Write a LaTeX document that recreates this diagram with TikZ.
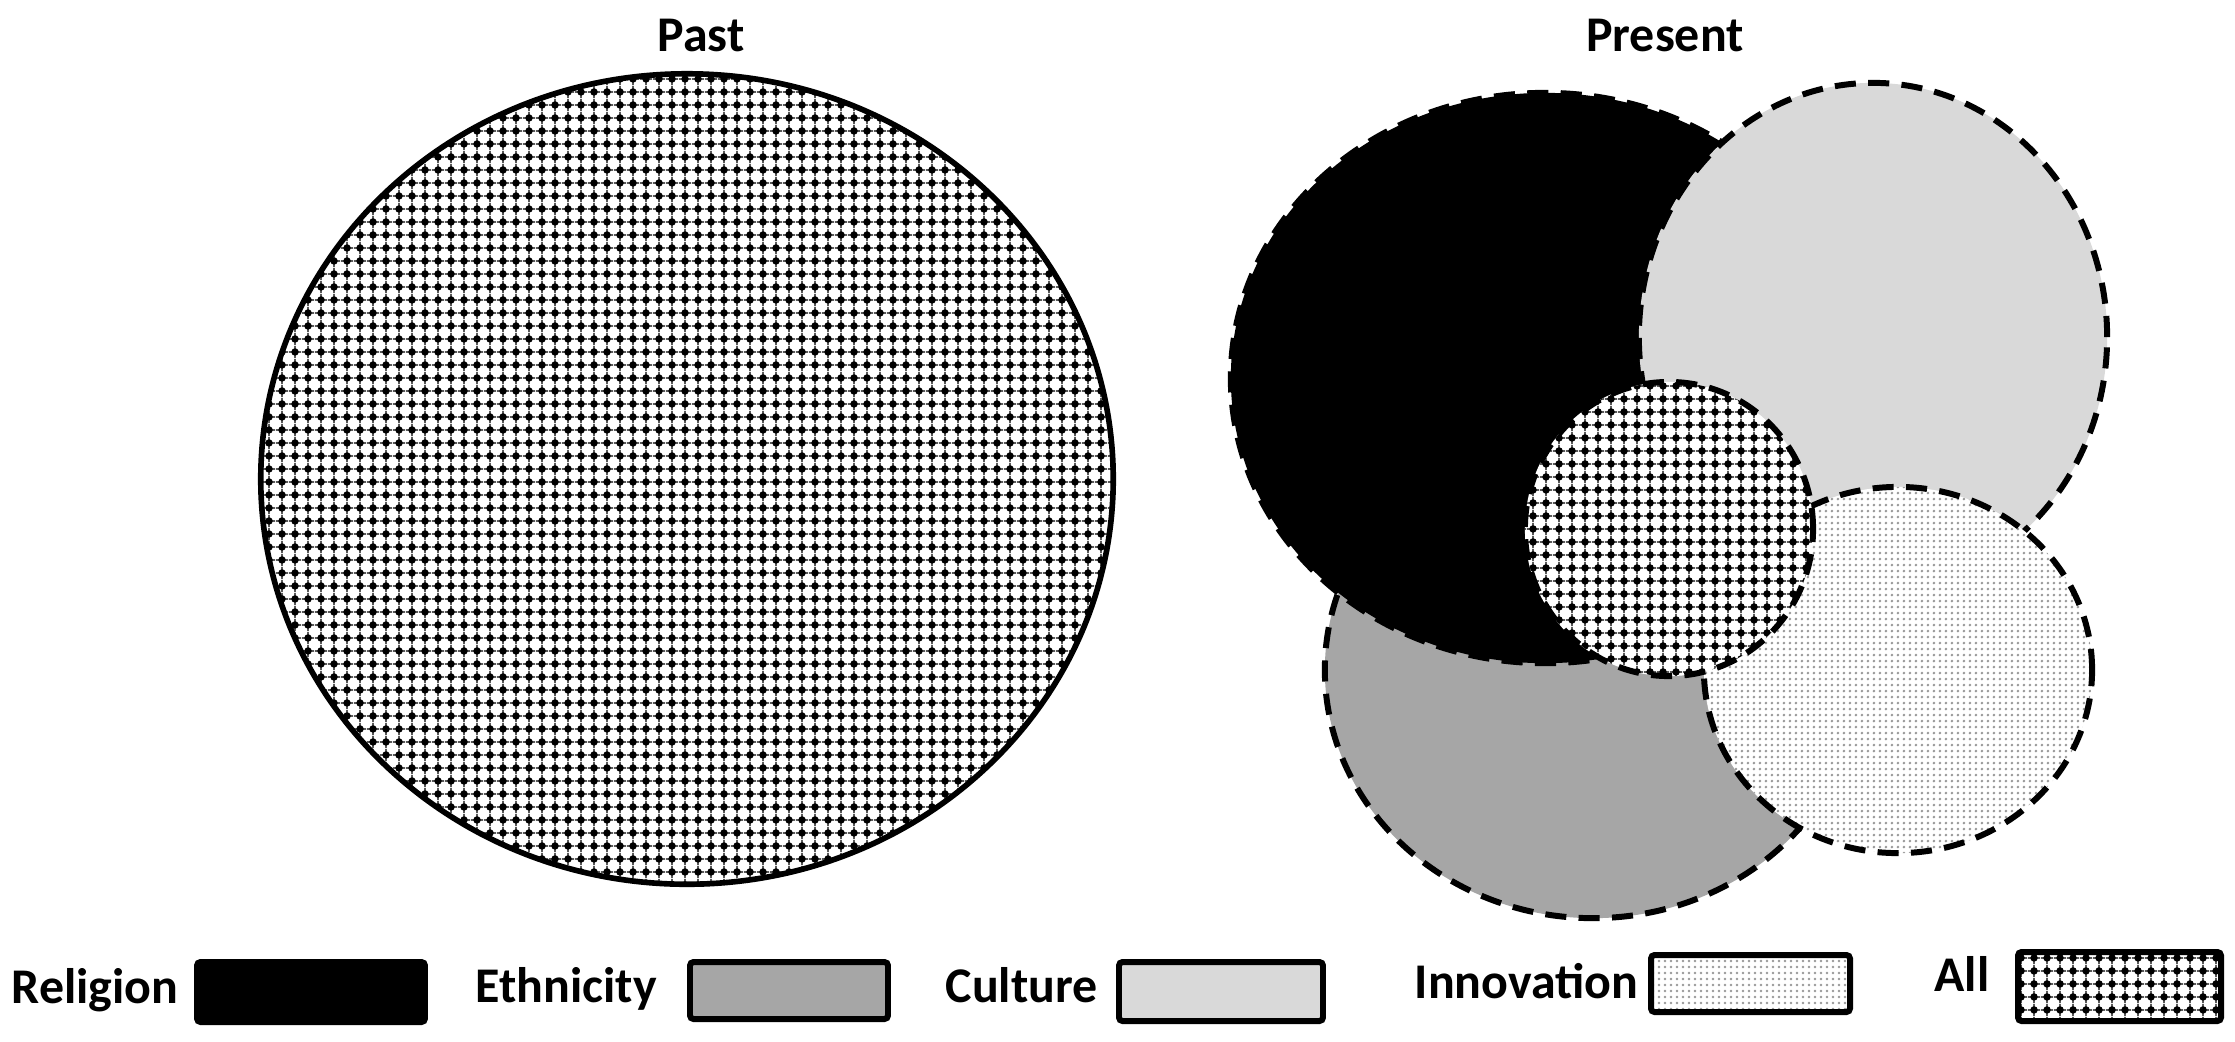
\documentclass[tikz,border=0pt]{standalone}
\usepackage{fontspec}
\setmainfont{Carlito}
\usetikzlibrary{patterns}
\pgfdeclarepatternformonly{alldots}{\pgfqpoint{0pt}{0pt}}{\pgfqpoint{3.56pt}{3.56pt}}{\pgfqpoint{3.56pt}{3.56pt}}{%
  \pgfpathcircle{\pgfqpoint{1.78pt}{1.78pt}}{1.1pt}\pgfusepath{fill}%
  \pgfsetlinewidth{0.4pt}%
  \pgfpathmoveto{\pgfqpoint{0pt}{1.78pt}}\pgfpathlineto{\pgfqpoint{3.56pt}{1.78pt}}%
  \pgfpathmoveto{\pgfqpoint{1.78pt}{0pt}}\pgfpathlineto{\pgfqpoint{1.78pt}{3.56pt}}%
  \pgfusepath{stroke}}
\pgfdeclarepatternformonly{innovdots}{\pgfqpoint{0pt}{0pt}}{\pgfqpoint{1.7pt}{1.7pt}}{\pgfqpoint{1.7pt}{1.7pt}}{%
  \pgfpathcircle{\pgfqpoint{0.85pt}{0.85pt}}{0.42pt}\pgfusepath{fill}}
\definecolor{ethgray}{HTML}{A6A6A6}
\definecolor{culgray}{HTML}{D9D9D9}
\tikzset{
  pastline/.style={line width=1.6pt},
  presline/.style={line width=1.7pt, dash pattern=on 6pt off 3.5pt},
  allfill/.style={preaction={fill=white}, pattern=alldots, pattern color=black},
  innovfill/.style={preaction={fill=white}, pattern=innovdots, pattern color=black!40},
  legbox/.style={line width=1.7pt, rounded corners=1pt},
  lbl/.style={font=\bfseries\fontsize{14.2pt}{17pt}\selectfont, inner sep=0pt},
}
\begin{document}
\begin{tikzpicture}[x=0.01cm, y=-0.01cm]
\useasboundingbox[fill=white] (0,0) rectangle (2235,1041);
% titles
\node[lbl, anchor=base] (tpast) at (701,51) {Past};
\node[lbl, anchor=base] (tpresent) at (1665,51) {Present};
% Past circle
\draw[pastline, allfill] (687,479) ellipse [x radius=4.26cm, y radius=4.05cm];
% Present circles
\draw[presline, fill=ethgray] (1593,670) ellipse [x radius=2.68cm, y radius=2.48cm];
\draw[presline, fill=black] (1545,378) ellipse [x radius=3.14cm, y radius=2.85cm];
\draw[presline, fill=culgray] (1873,337) ellipse [x radius=2.34cm, y radius=2.54cm];
\draw[presline, innovfill] (1898,670) ellipse [x radius=1.94cm, y radius=1.83cm];
\draw[presline, allfill] (1669,529) ellipse [x radius=1.44cm, y radius=1.47cm];
% legend
\node[lbl, anchor=base west] (lrel) at (11,1003) {Religion};
\draw[legbox, fill=black] (197,962) rectangle (425,1022);
\node[lbl, anchor=base west] (leth) at (475,1002) {Ethnicity};
\draw[legbox, fill=ethgray] (690,962) rectangle (888,1019);
\node[lbl, anchor=base west] (lcul) at (945,1002) {Culture};
\draw[legbox, fill=culgray] (1119,962) rectangle (1323,1021);
\node[lbl, anchor=base west] (linn) at (1414,998) {Innovation};
\draw[legbox, innovfill] (1651,955) rectangle (1850,1012);
\node[lbl, anchor=base west] (lall) at (1934,991) {All};
\draw[legbox, allfill] (2018,952) rectangle (2221,1021);
\end{tikzpicture}
\end{document}
